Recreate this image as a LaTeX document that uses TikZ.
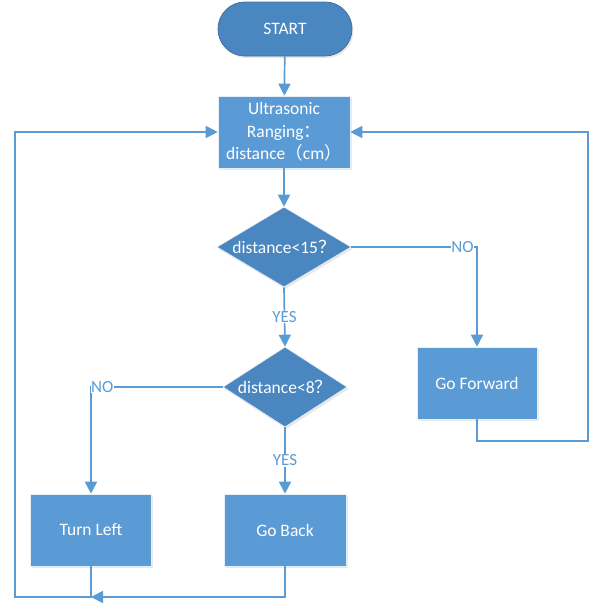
\documentclass[tikz,border=0pt]{standalone}
\usepackage{fontspec}
\setmainfont{Carlito}
\newfontfamily\cjk{Noto Sans CJK SC}
\usetikzlibrary{shapes.geometric,arrows.meta,shadows}
\definecolor{boxblue}{HTML}{5B9BD5}
\definecolor{darkblue}{HTML}{4A86C0}
\definecolor{edgeblue}{HTML}{41719C}
\definecolor{lineblue}{HTML}{5B9BD5}
\tikzset{
  base/.style={text=white, font=\fontsize{17.5}{22.5}\selectfont, inner sep=1pt, align=center,
    drop shadow={opacity=0.18, shadow xshift=1.5pt, shadow yshift=-2pt}},
  procbox/.style={base, rectangle, fill=boxblue, draw=white!85!boxblue, line width=0.6pt},
  startbox/.style={base, rectangle, rounded corners=27pt, fill=darkblue, draw=edgeblue, line width=0.8pt,
    minimum width=134pt, minimum height=54pt},
  decbox/.style={base, diamond, aspect=1.7, fill=darkblue, draw=white!85!darkblue, line width=0.6pt},
  conn/.style={draw=lineblue, line width=1.7pt},
  arr/.style={conn, -{Triangle[width=12pt,length=12pt]}},
  lbl/.style={text=lineblue, font=\fontsize{17}{19}\selectfont, fill=white, inner sep=0.5pt}
}
\begin{document}
\begin{tikzpicture}[x=1pt,y=-1pt]
\useasboundingbox (0,0) rectangle (600,613);
\node[startbox] (start) at (285,29) {START};
\node[procbox, minimum width=132pt, minimum height=72pt] (ultra) at (284,132)
  {Ultrasonic\\Ranging{\cjk ：}\\distance{\cjk （}cm{\cjk ）}};
\node[decbox, minimum width=134pt, minimum height=80pt] (d1) at (284,247) {distance<15{\cjk ？}};
\node[decbox, minimum width=124pt, minimum height=80pt] (d2) at (285,387) {distance<8{\cjk ？}};
\node[procbox, minimum width=120pt, minimum height=72pt] (fwd) at (477,383) {Go Forward};
\node[procbox, minimum width=121pt, minimum height=72pt] (left) at (91,530) {Turn Left};
\node[procbox, minimum width=122pt, minimum height=72pt] (back) at (285,530) {Go Back};
\coordinate (r1) at (588,441);
\coordinate (l1) at (15,597);

\draw[arr] (start) -- (ultra);
\draw[arr] (ultra) -- (d1);
\draw[arr] (d1.south) -- node[lbl]{YES} (d2.north);
\draw[arr] (d2.south) -- node[lbl]{YES} (back.north);
\draw[arr] (d1.east) -- node[lbl,pos=0.885]{NO} (d1.east -| fwd.north) -- (fwd.north);
\draw[arr] (d2.west) -- node[lbl,pos=0.915]{NO} (d2.west -| left.north) -- (left.north);
\draw[arr] (fwd.south) -- (fwd.south |- r1) -- (r1) -- (r1 |- ultra.east) -- (ultra.east);
\draw[arr] (left.south) -- (left.south |- l1) -- (l1) -- (l1 |- ultra.west) -- (ultra.west);
\draw[arr] (back.south) -- (back.south |- l1) -- (left.south |- l1);
\end{tikzpicture}
\end{document}
